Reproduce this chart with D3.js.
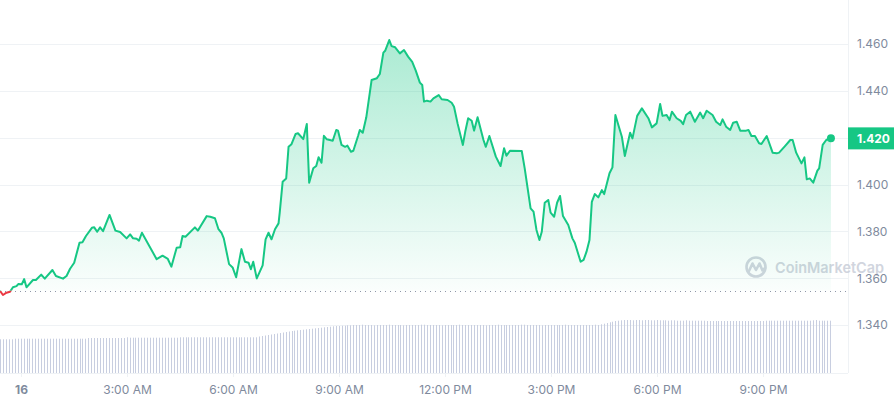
<!DOCTYPE html>
<html>
<head>
<meta charset="utf-8">
<script src="https://cdn.jsdelivr.net/npm/d3@7"></script>
<style>
  body { margin: 0; background: #fff; }
  svg { display: block; font-family: Inter, "Noto Sans", sans-serif; }
</style>
</head>
<body>
<svg id="chart" width="894" height="400"></svg>
<script>
// minutes after the first sample (15th, 23:24)
const priceMinutes = [0,5,11,17,22,28,31,37,41,45,56,61,70,76,89,95,107,113,119,126,135,140,146,156,160,165,170,175,186,196,
  204,215,221,226,232,236,241,266,276,285,291,300,306,310,315,331,336,340,351,357,365,371,376,380,389,395,401,410,416,422,
  426,430,436,446,451,456,461,467,473,475,480,486,490,495,502,506,515,521,525,532,537,541,546,550,555,565,571,574,580,586,
  590,596,600,608,611,616,622,631,640,645,651,654,661,665,671,679,686,693,700,706,713,717,720,725,731,736,745,750,760,767,
  771,777,786,790,795,801,805,811,821,825,831,842,850,856,860,866,886,891,901,906,911,916,920,925,931,935,941,946,951,956,
  965,972,976,986,991,996,1001,1005,1010,1016,1022,1026,1035,1040,1045,1056,1061,1070,1074,1082,1090,1101,1107,1115,1121,1125,1132,1137,1141,1149,
  1156,1160,1165,1172,1180,1189,1194,1200,1210,1216,1223,1227,1233,1240,1245,1251,1257,1267,1271,1276,1282,1289,1293,1302,1312,1319,1323,1333,1342,1346,
  1352,1361,1366,1370,1375,1381,1388,1391,1397,1403,1411];
const prices = [1.3546,1.3528,1.3538,1.3542,1.3561,1.3566,1.3575,1.3574,1.3596,1.3561,1.3592,1.3592,1.3615,1.3598,1.3635,1.3609,1.3598,1.3609,1.3640,1.3666,
  1.3751,1.3753,1.3780,1.3815,1.3817,1.3798,1.3817,1.3801,1.3870,1.3803,1.3797,1.3770,1.3787,1.3770,1.3768,1.3760,1.3794,1.3681,1.3696,1.3682,
  1.3649,1.3730,1.3732,1.3780,1.3777,1.3817,1.3803,1.3820,1.3865,1.3862,1.3856,1.3809,1.3794,1.3770,1.3660,1.3646,1.3604,1.3724,1.3670,1.3666,
  1.3638,1.3670,1.3599,1.3655,1.3766,1.3794,1.3766,1.3809,1.3834,1.3880,1.4012,1.4026,1.4161,1.4172,1.4216,1.4219,1.4194,1.4258,1.4008,1.4069,
  1.4079,1.4116,1.4093,1.4208,1.4193,1.4187,1.4233,1.4230,1.4169,1.4161,1.4166,1.4140,1.4144,1.4207,1.4233,1.4221,1.4287,1.4446,1.4454,1.4472,
  1.4563,1.4571,1.4617,1.4591,1.4586,1.4560,1.4574,1.4546,1.4524,1.4486,1.4435,1.4425,1.4354,1.4358,1.4354,1.4368,1.4382,1.4364,1.4361,1.4349,
  1.4332,1.4261,1.4169,1.4225,1.4283,1.4272,1.4230,1.4287,1.4190,1.4161,1.4207,1.4119,1.4079,1.4155,1.4123,1.4144,1.4143,1.4069,1.3898,1.3884,
  1.3806,1.3763,1.3798,1.3922,1.3934,1.3880,1.3862,1.3922,1.3951,1.3865,1.3827,1.3770,1.3751,1.3670,1.3678,1.3713,1.3763,1.3926,1.3959,1.3945,
  1.3976,1.3959,1.4048,1.4073,1.4297,1.4204,1.4122,1.4221,1.4197,1.4293,1.4325,1.4283,1.4244,1.4261,1.4344,1.4293,1.4297,1.4275,1.4311,1.4283,
  1.4272,1.4258,1.4297,1.4311,1.4268,1.4307,1.4283,1.4315,1.4297,1.4268,1.4254,1.4278,1.4247,1.4233,1.4264,1.4268,1.4230,1.4230,1.4233,1.4207,
  1.4207,1.4176,1.4173,1.4207,1.4136,1.4133,1.4136,1.4164,1.4190,1.4190,1.4136,1.4090,1.4116,1.4022,1.4026,1.4008,1.4059,1.4069,1.4169,1.4190,
  1.4197];
// 5-minute volume bars (relative units)
const volumes = [
  33.7,33.7,33.7,33.7,33.7,34.3,34.3,34.3,34.3,34.3,34.3,34.3,34.3,34.3,34.3,34.3,34.3,34.3,34.3,34.3,
  34.3,34.3,34.3,34.3,34.3,34.3,34.3,34.3,34.3,34.3,35.0,35.0,35.0,35.0,35.0,35.0,35.0,35.0,35.0,35.0,
  35.0,35.0,35.0,35.7,35.3,35.3,35.3,35.3,35.3,35.3,35.3,35.3,35.3,35.3,35.3,35.3,35.3,35.3,35.3,35.3,
  35.3,35.7,35.7,35.7,35.7,35.7,35.7,35.7,35.7,35.7,35.7,35.7,35.7,35.7,35.7,35.7,35.7,35.7,35.7,35.7,
  35.7,35.7,35.7,35.7,35.7,35.7,35.7,35.7,36.5,37.0,37.5,38.0,38.5,39.0,39.5,40.0,40.5,41.0,41.5,42.0,
  42.3,42.7,43.0,43.3,43.7,44.0,44.3,44.7,45.0,45.3,45.7,46.0,46.3,46.7,47.0,47.0,47.3,47.3,47.7,47.7,
  48.0,48.0,48.0,48.3,48.0,48.0,48.0,47.7,48.0,48.0,48.0,48.0,48.3,48.0,48.0,48.0,48.0,47.7,48.0,48.0,
  48.0,48.0,48.0,48.3,48.3,48.0,48.0,48.0,48.0,48.0,47.7,48.0,48.0,48.0,48.0,48.0,48.3,48.0,48.0,48.0,
  48.0,48.0,48.0,48.0,48.0,47.7,48.0,48.0,48.0,48.3,48.0,48.0,48.0,48.0,48.0,48.0,48.0,48.3,48.3,48.0,
  48.0,48.0,48.0,48.0,47.7,48.0,48.0,48.0,48.0,48.0,48.0,48.0,48.3,48.0,48.0,48.0,48.0,48.0,48.0,48.0,
  48.0,48.0,48.3,48.0,48.7,49.3,50.0,50.7,51.3,52.0,52.3,52.7,53.0,53.0,53.0,52.7,53.0,53.0,52.7,53.0,
  53.0,52.7,52.7,53.0,52.7,52.7,52.7,52.3,52.7,52.7,52.3,52.3,52.3,52.7,52.3,52.3,52.3,52.3,52.3,52.3,
  52.0,52.0,52.0,52.0,52.0,52.0,52.0,52.0,52.0,52.0,52.0,52.0,52.0,52.0,52.0,52.0,52.0,52.0,52.0,52.0,
  52.3,52.3,52.3,52.3,52.3,52.3,52.3,52.3,52.3,52.3,52.3,52.3,52.3,52.3,52.3,52.3,52.7,53.0,52.3,52.3,
  52.3,52.3,52.3];
const priceTicks = [1.340, 1.360, 1.380, 1.400, 1.420, 1.440, 1.460];
const openPrice = 1.3546;

const green = "#16c784", red = "#ea3943", gridColor = "#eff2f5", textColor = "#808a9d";
const start = new Date(2024, 2, 15, 23, 24, 20);
const minute = 60000;

const svg = d3.select("#chart");
const plotRight = 848, plotBottom = 373;

const x = d3.scaleTime()
  .domain([start, new Date(+start + 24 * 60 * minute)])
  .range([0, plotRight]);
const y = d3.scaleLinear().domain([1.340, 1.460]).range([325, 44]);
const yVol = d3.scaleLinear().domain([0, 60]).range([plotBottom, plotBottom - 60]);

const data = priceMinutes.map((m, i) => ({ t: new Date(+start + m * minute), v: prices[i] }));
const baseY = y(openPrice);
const last = data[data.length - 1];
const tagY = y(last.v);

// grid
svg.append("g").selectAll("line").data(priceTicks).join("line")
  .attr("x1", 0).attr("x2", plotRight)
  .attr("y1", d => Math.round(y(d)) + 0.5).attr("y2", d => Math.round(y(d)) + 0.5)
  .attr("stroke", gridColor);
svg.append("line").attr("x1", plotRight + 0.5).attr("x2", plotRight + 0.5)
  .attr("y1", 0).attr("y2", plotBottom).attr("stroke", gridColor);
svg.append("line").attr("x1", 0).attr("x2", plotRight)
  .attr("y1", plotBottom + 0.5).attr("y2", plotBottom + 0.5).attr("stroke", gridColor);

// volume
svg.append("g").selectAll("rect").data(volumes).join("rect")
  .attr("x", (d, i) => Math.round(x(new Date(+start + i * 5 * minute))))
  .attr("width", 1)
  .attr("y", d => yVol(d))
  .attr("height", d => plotBottom - yVol(d))
  .attr("fill", "#c8cee0");

// watermark
const wm = svg.append("g").attr("opacity", 0.85);
wm.append("circle").attr("cx", 756).attr("cy", 267).attr("r", 9.5)
  .attr("fill", "none").attr("stroke", "#c9ced9").attr("stroke-width", 2.6);
wm.append("path").attr("d", "M749,271 L752.5,263.5 L756,270 L759.5,263.5 L762.5,270.5 L765,268")
  .attr("fill", "none").attr("stroke", "#c9ced9").attr("stroke-width", 2.6)
  .attr("stroke-linejoin", "round").attr("stroke-linecap", "round");
wm.append("text").attr("x", 775).attr("y", 273).text("CoinMarketCap")
  .attr("font-size", 15).attr("font-weight", 600).attr("fill", "#c9ced9")
  .attr("textLength", 109).attr("lengthAdjust", "spacingAndGlyphs");

// area gradient
const defs = svg.append("defs");
const grad = defs.append("linearGradient").attr("id", "fillGrad")
  .attr("gradientUnits", "userSpaceOnUse").attr("x1", 0).attr("x2", 0).attr("y1", 40).attr("y2", baseY);
grad.append("stop").attr("offset", 0).attr("stop-color", green).attr("stop-opacity", 0.36);
grad.append("stop").attr("offset", 1).attr("stop-color", green).attr("stop-opacity", 0.02);

defs.append("clipPath").attr("id", "above").append("rect")
  .attr("x", 0).attr("y", 0).attr("width", plotRight).attr("height", baseY);
defs.append("clipPath").attr("id", "below").append("rect")
  .attr("x", 0).attr("y", baseY).attr("width", plotRight).attr("height", 400 - baseY);

const area = d3.area().x(d => x(d.t)).y0(baseY).y1(d => y(d.v));
svg.append("path").datum(data).attr("d", area)
  .attr("fill", "url(#fillGrad)").attr("clip-path", "url(#above)");

// open price dotted line
svg.append("line").attr("x1", 0).attr("x2", plotRight - 2)
  .attr("y1", Math.round(baseY) + 0.5).attr("y2", Math.round(baseY) + 0.5)
  .attr("stroke", "#8e97a8").attr("stroke-width", 1).attr("stroke-dasharray", "1,4");

const line = d3.line().x(d => x(d.t)).y(d => y(d.v));
svg.append("path").datum(data).attr("d", line).attr("fill", "none")
  .attr("stroke", green).attr("stroke-width", 2).attr("stroke-linejoin", "round")
  .attr("clip-path", "url(#above)");
svg.append("path").datum(data).attr("d", line).attr("fill", "none")
  .attr("stroke", red).attr("stroke-width", 2).attr("stroke-linejoin", "round")
  .attr("clip-path", "url(#below)");

svg.append("circle").attr("cx", x(last.t)).attr("cy", tagY).attr("r", 4).attr("fill", green);

// y axis labels (the one hidden under the price tag is left out)
const visibleTicks = priceTicks.filter(d => Math.abs(y(d) - tagY) > 12);
const yAxis = svg.append("g").attr("transform", `translate(${plotRight},0)`)
  .call(d3.axisRight(y).tickValues(visibleTicks).tickSize(0).tickPadding(9).tickFormat(d3.format(".3f")));
yAxis.select(".domain").remove();
yAxis.selectAll("text").attr("fill", textColor).attr("font-size", 12).attr("font-family", "Inter, sans-serif");

// current price tag
svg.append("rect").attr("x", plotRight).attr("y", tagY - 11).attr("width", 46).attr("height", 22)
  .attr("fill", green);
svg.append("text").attr("x", plotRight + 9).attr("y", tagY).attr("dy", "0.35em")
  .text(d3.format(".3f")(last.v)).attr("fill", "#fff").attr("font-size", 12).attr("font-weight", 700);

// x axis
const fmtTime = d3.timeFormat("%-I:%M %p");
const xAxis = svg.append("g").attr("transform", `translate(0,${plotBottom})`)
  .call(d3.axisBottom(x).ticks(d3.timeHour.every(3)).tickSize(4).tickPadding(8)
    .tickFormat(d => d.getHours() === 0 ? d3.timeFormat("%-d")(d) : fmtTime(d)));
xAxis.select(".domain").remove();
xAxis.selectAll(".tick line").attr("stroke", gridColor);
xAxis.selectAll("text").attr("fill", textColor).attr("font-size", 12).attr("font-family", "Inter, sans-serif")
  .attr("font-weight", d => d.getHours() === 0 ? 700 : 400);
</script>
</body>
</html>
